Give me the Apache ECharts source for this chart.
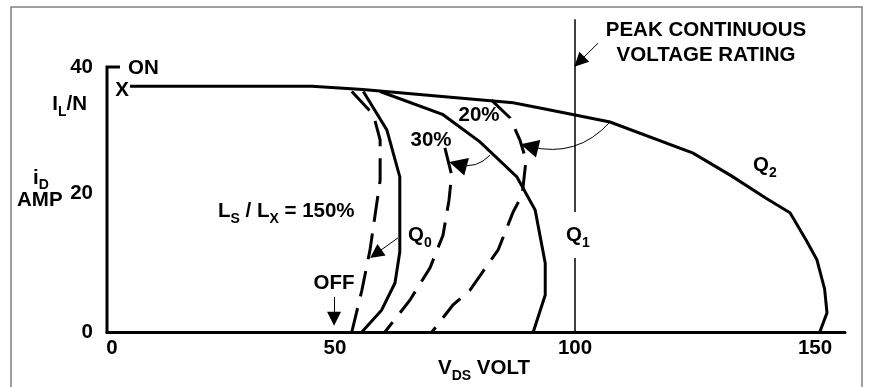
<!DOCTYPE html>
<html><head><meta charset="utf-8">
<script src="https://cdn.jsdelivr.net/npm/echarts@6/dist/echarts.min.js"></script>
<style>html,body{margin:0;padding:0;background:#fff}#c{width:869px;height:387px}</style>
</head><body><div id="c"></div>
<script>
// ---- tick labels ----
const xTickValues = [2.5, 50, 100, 150];
const xTickLabels = ['0', '50', '100', '150'];
const yTickValues = [0, 20, 40];
const yTickLabels = ['0', '20', '40'];

// ---- curves (V_DS, i_D) ----
const q2Curve = [[7.3,37.1],[45.2,37.1],[55.8,36.6],[87.1,34.6],[94.8,33.5],[107.3,31.7],[124.6,27.0],[132.5,23.6],[139.8,20.2],[144.8,18.0],[148.2,13.8],[150.4,10.9],[152.0,6.5],[152.5,2.9],[151.0,0]];
const q0Curve = [[55.9,36.3],[60.8,30.5],[63.5,23.4],[63.5,12.1],[62.5,7.4],[59.7,3.3],[55.6,0]];
const midCurve = [[59.4,36.3],[72.5,32.8],[80.2,28.7],[87.9,23.4],[91.7,18.4],[93.8,10.4],[93.8,5.6],[91.3,0]];
const dash150 = [[53.5,36.3],[58.0,32.8],[59.4,29.0],[59.4,22.9],[58.5,18.4],[57.3,12.4],[55.6,6.3],[53.5,0]];
const dash30 = [[72.9,27.8],[74.3,23.7],[73.75,19.9],[72.5,14.6],[69.8,9.7],[65.6,4.8],[60.4,0]];
const dash20 = [[82.6,35.0],[86.5,32.3],[88.5,29.0],[89.8,26.0],[89.0,20.7],[87.1,18.1],[84.0,12.4],[80.6,8.9],[78.1,6.3],[74.6,4.1],[70.2,0]];
const q1Line = [[100,0],[100,47.2]];
const yAxisBracket = [[2.5,-0.2],[2.5,40],[5.2,40]];

// ---- arrows: [start, end, curveness] ----
const curvedArrows = [
  [[107.3,31.7],[90.5,28.0],0.3],
  [[82.3,26.7],[75.6,25.3],0.3]
];
const straightArrows = [
  [[63.1,14.2],[58.5,11.8]],
  [[49.8,5.3],[49.8,2.0]],
  [[104.8,43.6],[100.9,40.8]]
];

const F = '"Liberation Sans", Arial, sans-serif';
const FS = 20.5;
const SS = 14;
function lineSeries(data, width, dashed) {
  return {type:'line', data, symbol:'none', silent:true, clip:false,
    lineStyle:{color:'#000', width, type: dashed ? [26,12] : 'solid', cap:'butt', join:'miter'}, z:3};
}
const txt = (o) => Object.assign({type:'text', z:100, silent:true}, o);
const base = {fontSize:FS, fontWeight:'bold', fontFamily:F, fill:'#000'};
const subR = (pad) => ({m:{fontSize:FS, fontWeight:'bold', fontFamily:F, fill:'#000'}, s:{fontSize:SS, fontWeight:'bold', fontFamily:F, fill:'#000', padding:[pad,0,0,0]}});

const chart = echarts.init(document.getElementById('c'));
chart.setOption({
  animation:false,
  grid:{left:107, right:24, top:14, bottom:55},
  xAxis:{type:'value', min:2.5, max:156.25,
    axisLine:{show:true, onZero:false, lineStyle:{color:'#000', width:3}},
    axisTick:{show:false}, splitLine:{show:false},
    axisLabel:{customValues:xTickValues, margin:6, color:'#000', fontSize:FS, fontWeight:'bold', fontFamily:F,
      formatter:(v)=>{const i=xTickValues.indexOf(v); const t=xTickLabels[i]; return i===0 ? '{z|'+t+'}' : t;},
      rich:{z:{padding:[0,0,0,10], color:'#000', fontSize:FS, fontWeight:'bold', fontFamily:F}}}
  },
  yAxis:{type:'value', min:0, max:48,
    axisLine:{show:false}, axisTick:{show:false}, splitLine:{show:false},
    axisLabel:{customValues:yTickValues, margin:14, color:'#000', fontSize:FS, fontWeight:'bold', fontFamily:F,
      formatter:(v)=>{const t=yTickLabels[yTickValues.indexOf(v)]; return v===20 ? '{u|'+t+'}' : t;},
      rich:{u:{padding:[0,0,13,0], color:'#000', fontSize:FS, fontWeight:'bold', fontFamily:F}}}
  },
  series:[
    lineSeries(yAxisBracket, 3, false),
    lineSeries(q2Curve, 3, false),
    lineSeries(q0Curve, 3, false),
    lineSeries(midCurve, 3, false),
    lineSeries(dash150, 3, true),
    lineSeries(dash30, 3, true),
    lineSeries(dash20, 3, true),
    lineSeries(q1Line, 1.5, false),
    {type:'lines', coordinateSystem:'cartesian2d', silent:true, z:4,
      symbol:['none','triangle'], symbolSize:[0,18],
      lineStyle:{color:'#000', width:1, opacity:1},
      data: curvedArrows.map(a => ({coords:[a[0],a[1]], lineStyle:{curveness:a[2]}}))},
    {type:'lines', coordinateSystem:'cartesian2d', silent:true, z:4,
      symbol:['none','triangle'], symbolSize:[0,14],
      lineStyle:{color:'#000', width:1, opacity:1, curveness:0},
      data: straightArrows.map(a => ({coords:[a[0],a[1]]}))}
  ],
  graphic:[
    {type:'rect', z:100, silent:true, shape:{x:11, y:7, width:851, height:400}, style:{fill:'none', stroke:'#808080', lineWidth:1.5}},
    txt({style:Object.assign({}, base, {text:'ON', x:128, y:68, align:'left', verticalAlign:'middle'})}),
    txt({style:Object.assign({}, base, {text:'X', x:122, y:90, align:'center', verticalAlign:'middle'})}),
    txt({style:{text:'{m|I}{s|L}{m|/N}', x:87, y:104, align:'right', verticalAlign:'middle', rich:subR(17)}}),
    txt({style:{text:'{m|i}{s|D}', x:33, y:178, align:'left', verticalAlign:'middle', rich:subR(14)}}),
    txt({style:Object.assign({}, base, {text:'AMP', x:17, y:200, align:'left', verticalAlign:'middle'})}),
    txt({style:{text:'{m|L}{s|S}{m| / L}{s|X}{m| = 150%}', x:218, y:211, align:'left', verticalAlign:'middle', rich:subR(16)}}),
    txt({style:{text:'{m|Q}{s|0}', x:408, y:235, align:'left', verticalAlign:'middle', rich:subR(16)}}),
    txt({style:{text:'{m|Q}{s|1}', x:563, y:235, align:'left', verticalAlign:'middle', rich:subR(16), backgroundColor:'#fff', padding:[8,3,8,3]}}),
    txt({style:{text:'{m|Q}{s|2}', x:753, y:165, align:'left', verticalAlign:'middle', rich:subR(16)}}),
    txt({style:Object.assign({}, base, {text:'30%', x:431, y:140, align:'center', verticalAlign:'middle'})}),
    txt({style:Object.assign({}, base, {text:'20%', x:479, y:115, align:'center', verticalAlign:'middle'})}),
    txt({style:Object.assign({}, base, {text:'OFF', x:334, y:283, align:'center', verticalAlign:'middle'})}),
    txt({style:Object.assign({}, base, {text:'PEAK CONTINUOUS', x:706, y:30, align:'center', verticalAlign:'middle'})}),
    txt({style:Object.assign({}, base, {text:'VOLTAGE RATING', x:706, y:55, align:'center', verticalAlign:'middle'})}),
    txt({style:{text:'{m|V}{s|DS}{m| VOLT}', x:438, y:368, align:'left', verticalAlign:'middle', rich:subR(16)}})
  ]
});
</script></body></html>
